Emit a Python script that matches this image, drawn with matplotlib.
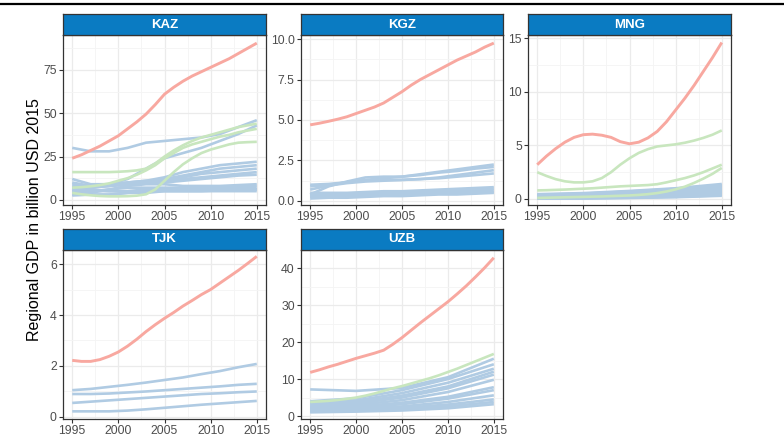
import matplotlib
matplotlib.use("Agg")
import matplotlib.pyplot as plt
from matplotlib.lines import Line2D
from matplotlib.ticker import FixedLocator

plt.rcParams['font.family'] = ['Liberation Sans', 'DejaVu Sans']

# yearly grid for the leading regions, coarser grids for the rest
years = list(range(1995, 2016))
years2 = [1995, 1997, 1999, 2001, 2003, 2005, 2007, 2009, 2011, 2013, 2015]
years5 = [1995, 2000, 2005, 2010, 2015]

# --- KAZ ---
kaz_red = [24, 26, 28.5, 31, 34, 37, 41, 45, 49.5, 55, 61, 65, 68.5, 71.5,
           74, 76.5, 79, 81.5, 84.5, 87.5, 90.5]
kaz_green = [
    [16, 16, 16, 16, 16, 16.2, 16.5, 17, 18, 21, 25, 28.5, 31.5, 34, 36,
     37.5, 39, 40.5, 42, 43, 44],
    [7, 7.3, 7.8, 8.5, 9.5, 11, 12.5, 14.5, 17, 20, 24, 27, 30, 32, 33.5,
     35, 36.5, 37.5, 39, 40, 41],
    [4, 3.2, 2.6, 2.2, 2, 2, 2.1, 2.4, 3.2, 6, 11, 16, 20.5, 24, 27, 29,
     30.5, 32, 33, 33.3, 33.5],
]
kaz_blue = [
    [30, 28, 28, 30, 33, 34, 35, 36, 38, 42, 46],
    [12, 9, 9, 12, 18, 24, 27, 30, 34, 38, 43],
    [9, 8, 9, 10, 11, 13, 16, 18, 20, 21, 22],
    [8, 7, 8, 9, 10, 12, 14, 16, 18, 19, 20],
    [6, 7, 8, 9, 10, 11, 13, 15, 16, 17, 18],
    [5, 7, 9, 10, 11, 11, 12, 13, 14, 15, 16],
    [10, 8, 8, 9, 10, 10, 11, 12, 13, 14, 14.5],
    [3, 4, 6, 8, 9, 9, 8, 8, 8, 8.5, 9],
    [4, 5, 6, 7, 7, 7, 7, 7, 7, 7.5, 8],
    [5, 5, 5, 5, 6, 6, 6, 6, 6.5, 6.5, 7],
    [3, 3, 3, 4, 4, 5, 5, 5, 5.5, 5.5, 6],
    [7, 6, 5, 5, 5, 5, 5, 5, 5, 5, 5],
    [2.5, 3, 3, 4, 5, 6, 6, 6, 6, 6, 6],
]

# --- KGZ ---
kgz_red = [4.7, 4.8, 4.92, 5.05, 5.2, 5.4, 5.6, 5.8, 6.05, 6.4, 6.75, 7.15,
           7.5, 7.8, 8.1, 8.4, 8.7, 8.95, 9.2, 9.5, 9.75]
kgz_blue = [
    [0.4, 0.9, 1.2, 1.45, 1.5, 1.5, 1.65, 1.8, 1.95, 2.1, 2.25],
    [1.0, 1.05, 1.15, 1.3, 1.4, 1.5, 1.6, 1.75, 1.85, 2.0, 2.1],
    [0.9, 1.0, 1.15, 1.25, 1.3, 1.3, 1.35, 1.45, 1.6, 1.75, 1.9],
    [0.7, 0.95, 1.1, 1.2, 1.25, 1.3, 1.35, 1.4, 1.5, 1.6, 1.7],
    [0.5, 0.5, 0.5, 0.55, 0.6, 0.6, 0.65, 0.7, 0.75, 0.8, 0.85],
    [0.4, 0.4, 0.4, 0.45, 0.5, 0.5, 0.55, 0.6, 0.65, 0.7, 0.75],
    [0.3, 0.3, 0.35, 0.4, 0.4, 0.45, 0.5, 0.5, 0.55, 0.6, 0.65],
    [0.25, 0.25, 0.3, 0.3, 0.35, 0.4, 0.4, 0.45, 0.5, 0.5, 0.55],
    [0.15, 0.2, 0.2, 0.25, 0.3, 0.3, 0.35, 0.4, 0.4, 0.45, 0.5],
]

# --- MNG ---
mng_red = [3.2, 4.0, 4.7, 5.3, 5.75, 6.0, 6.05, 5.95, 5.75, 5.35, 5.15, 5.3,
           5.7, 6.3, 7.2, 8.3, 9.4, 10.6, 11.9, 13.2, 14.6]
mng_green = [
    [2.5, 2.15, 1.85, 1.65, 1.55, 1.55, 1.65, 1.95, 2.5, 3.2, 3.8, 4.3, 4.65,
     4.9, 5.0, 5.1, 5.25, 5.45, 5.7, 6.0, 6.4],
    [0.8, 0.82, 0.85, 0.88, 0.92, 0.96, 1.0, 1.06, 1.12, 1.18, 1.22, 1.26,
     1.3, 1.38, 1.55, 1.75, 1.95, 2.2, 2.5, 2.85, 3.2],
    [0.1, 0.12, 0.14, 0.16, 0.18, 0.2, 0.22, 0.24, 0.27, 0.3, 0.33, 0.38,
     0.45, 0.55, 0.7, 0.9, 1.15, 1.5, 1.9, 2.35, 2.9],
]
mng_blue = [
    [0.45, 0.55, 0.75, 1.0, 1.4],
    [0.4, 0.5, 0.7, 0.95, 1.3],
    [0.35, 0.45, 0.65, 0.9, 1.2],
    [0.3, 0.4, 0.6, 0.8, 1.1],
    [0.3, 0.38, 0.55, 0.75, 1.0],
    [0.25, 0.32, 0.5, 0.7, 0.95],
    [0.25, 0.3, 0.45, 0.65, 0.9],
    [0.2, 0.26, 0.4, 0.6, 0.85],
    [0.2, 0.24, 0.36, 0.55, 0.8],
    [0.15, 0.2, 0.3, 0.48, 0.7],
    [0.15, 0.18, 0.28, 0.45, 0.65],
    [0.12, 0.15, 0.25, 0.4, 0.6],
    [0.1, 0.13, 0.22, 0.36, 0.55],
    [0.1, 0.12, 0.2, 0.33, 0.5],
    [0.08, 0.1, 0.17, 0.28, 0.45],
    [0.05, 0.08, 0.14, 0.24, 0.4],
    [0.05, 0.07, 0.12, 0.2, 0.35],
    [0.03, 0.05, 0.1, 0.17, 0.3],
]

# --- TJK ---
tjk_red = [2.22, 2.18, 2.18, 2.25, 2.38, 2.55, 2.78, 3.05, 3.35, 3.62, 3.87,
           4.1, 4.35, 4.57, 4.8, 5.0, 5.25, 5.5, 5.75, 6.02, 6.3]
tjk_blue = [
    [1.05, 1.1, 1.18, 1.26, 1.35, 1.45, 1.55, 1.68, 1.8, 1.95, 2.08],
    [0.9, 0.9, 0.92, 0.96, 1.0, 1.05, 1.1, 1.15, 1.2, 1.26, 1.3],
    [0.55, 0.6, 0.65, 0.7, 0.75, 0.8, 0.85, 0.9, 0.93, 0.97, 1.0],
    [0.22, 0.22, 0.22, 0.25, 0.3, 0.36, 0.42, 0.48, 0.53, 0.58, 0.63],
]

# --- UZB ---
uzb_red = [11.8, 12.5, 13.3, 14.0, 14.8, 15.6, 16.3, 17.0, 17.8, 19.4, 21.2,
           23.2, 25.2, 27.1, 29.0, 30.9, 33.0, 35.2, 37.6, 40.1, 42.8]
uzb_green = [[3.8, 3.95, 4.1, 4.35, 4.65, 5.0, 5.5, 6.1, 6.8, 7.5, 8.1, 8.8,
              9.5, 10.2, 11.0, 11.9, 12.8, 13.8, 14.8, 15.8, 16.8]]
uzb_blue = [
    [7.2, 6.8, 7.6, 10.5, 15.5],
    [4.0, 4.8, 7.0, 10.0, 14.0],
    [3.5, 4.2, 6.2, 9.0, 12.8],
    [3.2, 3.8, 5.5, 8.0, 12.0],
    [2.8, 3.4, 5.0, 7.5, 11.2],
    [2.5, 3.0, 4.3, 6.5, 9.8],
    [2.2, 2.6, 3.6, 5.2, 7.8],
    [2.0, 2.3, 3.2, 4.7, 7.0],
    [1.8, 2.0, 2.6, 3.8, 5.6],
    [1.5, 1.7, 2.2, 3.1, 4.5],
    [1.2, 1.4, 1.8, 2.6, 3.8],
    [1.0, 1.2, 1.5, 2.1, 3.2],
]

RED = '#F8A8A0'
BLUE = '#B0CBE3'
GREEN = '#C8E6BE'
STRIP = '#0A7BC2'

# pick the x grid that matches a series' length
grid = {len(years): years, len(years2): years2, len(years5): years5}

W, H = 784, 438
fig = plt.figure(figsize=(W / 100, H / 100), dpi=100)


def box(l, t, r, b):
    return [l / W, 1 - b / H, (r - l) / W, (b - t) / H]


panels = [
    ("KAZ", (63, 35, 266, 205), kaz_red, kaz_green, kaz_blue,
     (-3, 95.2), [0, 25, 50, 75], "{:g}"),
    ("KGZ", (301, 35, 503, 205), kgz_red, [], kgz_blue,
     (-0.25, 10.25), [0, 2.5, 5, 7.5, 10], "{:.1f}"),
    ("MNG", (528, 35, 731, 205), mng_red, mng_green, mng_blue,
     (-0.56, 15.3), [0, 5, 10, 15], "{:g}"),
    ("TJK", (63, 250, 266, 419), tjk_red, [], tjk_blue,
     (-0.08, 6.55), [0, 2, 4, 6], "{:g}"),
    ("UZB", (301, 250, 503, 419), uzb_red, uzb_green, uzb_blue,
     (-0.8, 44.9), [0, 10, 20, 30, 40], "{:g}"),
]

for name, (l, t, r, b), red, greens, blues, ylim, yt, fmt in panels:
    ax = fig.add_axes(box(l, t, r, b))
    for s in blues:
        ax.plot(grid[len(s)], s, color=BLUE, lw=1.9, solid_capstyle='butt',
                solid_joinstyle='round')
    for s in greens:
        ax.plot(grid[len(s)], s, color=GREEN, lw=1.9, solid_capstyle='butt',
                solid_joinstyle='round')
    ax.plot(grid[len(red)], red, color=RED, lw=2.1, solid_capstyle='butt',
            solid_joinstyle='round')

    ax.set_xlim(1994, 2016)
    ax.set_ylim(*ylim)
    ax.set_xticks([1995, 2000, 2005, 2010, 2015])
    ax.set_yticks(yt)
    ax.set_yticklabels([fmt.format(v) for v in yt])
    step = yt[1] - yt[0]
    ax.yaxis.set_minor_locator(FixedLocator([v + step / 2 for v in [yt[0] - step] + yt]))
    ax.xaxis.set_minor_locator(FixedLocator([1997.5, 2002.5, 2007.5, 2012.5]))
    ax.grid(which='major', color='#EBEBEB', lw=0.9)
    ax.grid(which='minor', color='#F4F4F4', lw=0.6)
    ax.set_axisbelow(True)
    ax.tick_params(which='major', length=3, width=0.8, color='#333333',
                   labelsize=8.8, labelcolor='#4D4D4D', pad=1.5)
    ax.tick_params(which='minor', length=0)
    for sp in ax.spines.values():
        sp.set_color('#333333')
        sp.set_linewidth(0.9)

    # facet strip above the panel
    sax = fig.add_axes(box(l, t - 21, r, t))
    sax.set_facecolor(STRIP)
    sax.set_xticks([])
    sax.set_yticks([])
    for sp in sax.spines.values():
        sp.set_color('#333333')
        sp.set_linewidth(0.9)
    sax.text(0.5, 0.5, name, color='white', fontsize=9.5, fontweight='bold',
             ha='center', va='center', transform=sax.transAxes)

fig.text(35 / W, 1 - 220 / H, "Regional GDP in billion USD 2015", rotation=90,
         ha='center', va='center', fontsize=11.5, color='black')

# rule across the top
fig.add_artist(Line2D([0, 1], [1 - 3.5 / H, 1 - 3.5 / H], color='black', lw=1.6))

fig.savefig("out.png", dpi=100)
